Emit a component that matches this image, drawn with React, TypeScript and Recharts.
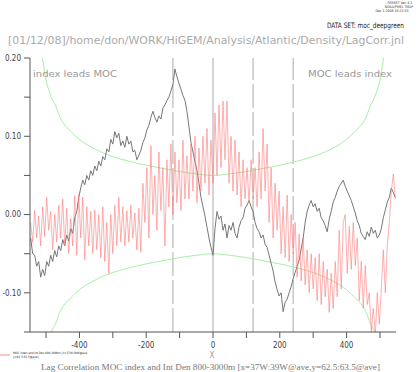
import React from "react";
import {
  LineChart,
  Line,
  XAxis,
  YAxis,
  ReferenceLine,
} from "recharts";

// lag correlation, gray = MOC index vs density (one value every 6 lags from -546)
const GRAY_CORR = [
  -0.03, -0.05, -0.052, -0.066, -0.06, -0.08, -0.07, -0.078, -0.06, -0.066,
  -0.052, -0.06, -0.046, -0.054, -0.04, -0.046, -0.032, -0.04, -0.026, -0.034,
  -0.018, -0.024, -0.004, 0.004, 0.022, 0.034, 0.044, 0.038, 0.05, 0.044,
  0.056, 0.05, 0.062, 0.056, 0.068, 0.062, 0.074, 0.07, 0.084, 0.08,
  0.096, 0.09, 0.106, 0.098, 0.104, 0.088, 0.094, 0.086, 0.1, 0.09,
  0.094, 0.08, 0.082, 0.07, 0.076, 0.082, 0.092, 0.098, 0.108, 0.114,
  0.124, 0.132, 0.124, 0.118, 0.126, 0.122, 0.136, 0.14, 0.146, 0.15,
  0.158, 0.166, 0.186, 0.176, 0.168, 0.16, 0.152, 0.146, 0.132, 0.112,
  0.092, 0.08, 0.068, 0.056, 0.04, 0.022, 0.01, -0.002, -0.016, -0.03,
  -0.042, -0.052, -0.018, 0.004, -0.006, -0.002, -0.02, -0.012, -0.03, -0.014,
  -0.02, -0.01, -0.024, -0.03, -0.016, -0.008, -0.004, 0.008, 0.012, 0.018,
  0.01, 0.004, -0.01, -0.018, -0.022, -0.03, -0.026, -0.038, -0.042, -0.052,
  -0.062, -0.072, -0.086, -0.096, -0.104, -0.1, -0.124, -0.112, -0.108, -0.1,
  -0.092, -0.082, -0.074, -0.066, -0.058, -0.044, -0.03, -0.01, 0.004, 0.012,
  0.018, 0.01, 0.014, 0.004, 0.008, -0.004, -0.008, -0.014, -0.022, -0.006,
  0.004, 0.016, 0.022, 0.03, 0.036, 0.04, 0.044, 0.036, 0.03, 0.024,
  0.018, 0.01, 0.002, -0.008, -0.014, -0.024, -0.028, -0.032, -0.022, -0.028,
  -0.016, -0.024, -0.02, -0.03, -0.026, -0.018, -0.004, 0.006, 0.016, 0.022,
  0.034, 0.028, 0.022,
];

// red = second lag correlation, same lag grid
const RED_CORR = [
  -0.01, -0.035, 0.005, -0.03, -0.002, -0.04, 0.01, -0.028, 0.022, -0.02,
  0.004, -0.045, 0.0, -0.035, 0.012, -0.03, 0.02, -0.04, 0.008, -0.05,
  -0.005, -0.04, 0.024, -0.052, 0.026, -0.03, 0.022, -0.058, 0.01, -0.04,
  0.004, -0.05, 0.006, -0.045, 0.0, -0.055, 0.01, -0.06, -0.01, -0.075,
  0.0, -0.05, 0.012, -0.04, 0.022, -0.035,
  0.01, -0.04, 0.005, -0.035, 0.012, -0.03, 0.002, -0.045, 0.008, -0.048,
  0.04, -0.01, 0.06, -0.03, 0.088, 0.0, 0.05, -0.02, 0.08, 0.005,
  0.06, -0.04, 0.07,
  0.01, 0.09, 0.0, 0.08, 0.015, 0.07, 0.005, 0.095, 0.02, 0.075,
  0.02, 0.09, 0.03, 0.1, 0.015, 0.085, 0.03, 0.1, 0.04, 0.11,
  0.025, 0.095, 0.04,
  0.13, 0.05, 0.14, 0.06, 0.145, 0.07, 0.145, 0.04,
  0.1, 0.03, 0.095, 0.025, 0.08, 0.01, 0.07, 0.02,
  0.06, 0.015, 0.07, 0.02, 0.06,
  0.01, 0.08, 0.02, 0.11, 0.03,
  0.09, -0.01, 0.06, -0.03, 0.04, -0.02, 0.03,
  -0.05, 0.01, -0.055, 0.025, -0.06, 0.0, -0.05,
  -0.01, -0.08, -0.025, -0.085, -0.03, -0.09,
  -0.045, -0.1, -0.05, -0.095, -0.055,
  -0.11, -0.05, -0.115, -0.06, -0.105,
  -0.07, -0.125, -0.075, -0.12, -0.06,
  -0.105, -0.02, -0.095, -0.01, 0.0,
  -0.075, -0.015, -0.07, -0.01, -0.065, -0.03,
  -0.11, -0.06, -0.12, -0.065, -0.115,
  -0.1, -0.15, -0.12, -0.155,
  -0.1, -0.14, -0.095,
  -0.045, -0.1, -0.04,
  -0.01, 0.03, 0.052, 0.02,
];

// green significance curves
const SIG_LAGS = [
  -516, -510, -500, -490, -480, -470, -460, -450, -425, -400, -350, -300,
  -250, -200, -150, -100, -50, 0, 50, 100, 150, 200, 250, 300, 350, 400, 425,
  450, 460, 470, 480, 490, 500, 510, 516,
];
const SIG_UPPER = [
  0.215, 0.198, 0.172, 0.157, 0.146, 0.138, 0.126, 0.118, 0.106, 0.096, 0.083,
  0.074, 0.068, 0.063, 0.059, 0.055, 0.052, 0.05, 0.052, 0.055, 0.059, 0.063,
  0.068, 0.074, 0.083, 0.096, 0.106, 0.118, 0.126, 0.138, 0.146, 0.157, 0.172,
  0.198, 0.215,
];
const SIG_LOWER = [
  -0.215, -0.198, -0.172, -0.157, -0.146, -0.138, -0.126, -0.118, -0.106,
  -0.096, -0.083, -0.074, -0.068, -0.063, -0.059, -0.055, -0.052, -0.05,
  -0.052, -0.055, -0.059, -0.063, -0.068, -0.074, -0.083, -0.096, -0.106,
  -0.118, -0.126, -0.138, -0.146, -0.157, -0.172, -0.198, -0.215,
];

const X_TICKS = [-500, -400, -300, -200, -100, 0, 100, 200, 300, 400, 500];
const Y_TICKS = [-0.15, -0.1, -0.05, 0, 0.05, 0.1, 0.15, 0.2];
const DASHED_LAGS = [-120, 120, 240];

const X_DOMAIN: [number, number] = [-548, 548];
const Y_DOMAIN: [number, number] = [-0.15, 0.2];

const TITLE =
  "[01/12/08]/home/don/WORK/HiGEM/Analysis/Atlantic/Density/LagCorr.jnl";
const FOOTER =
  "Lag Correlation MOC index and Int Den 800-3000m [x=37W:39W@ave,y=62.5:63.5@ave]";

const AXIS_COLOR = "#555";
const COND = "DejaVu Sans Condensed, DejaVu Sans";
const tickStyle = { fontSize: 8, fill: "#444", fontFamily: COND };

const fmtX = (v: number) => (v % 200 === 0 ? String(v) : "");
const fmtY = (v: number) => {
  const h = Math.round(v * 100);
  return h % 10 === 0 ? (h / 100).toFixed(2) : "";
};

export default function App() {
  const corrData = GRAY_CORR.map((g, i) => ({
    lag: -546 + 6 * i,
    gray: g,
    red: RED_CORR[i],
  }));
  const upperData = SIG_LAGS.map((lag, i) => ({ lag, sig: SIG_UPPER[i] }));
  const lowerData = SIG_LAGS.map((lag, i) => ({ lag, sig: SIG_LOWER[i] }));

  return (
    <div style={{ position: "absolute", left: 0, top: 0, width: 419, height: 372, background: "#fff" }}>
      <LineChart
        width={419}
        height={372}
        margin={{ top: 58, right: 23, bottom: 0, left: 0 }}
      >
        <XAxis
          xAxisId="bottom"
          type="number"
          dataKey="lag"
          domain={X_DOMAIN}
          allowDataOverflow
          ticks={X_TICKS}
          tickFormatter={fmtX}
          height={40}
          tickSize={6}
          tickMargin={4}
          stroke={AXIS_COLOR}
          tick={tickStyle}
          interval={0}
        />
        <XAxis
          xAxisId="top"
          orientation="top"
          type="number"
          dataKey="lag"
          domain={X_DOMAIN}
          allowDataOverflow
          ticks={X_TICKS}
          tick={false}
          height={0}
          tickSize={6}
          stroke={AXIS_COLOR}
          interval={0}
        />
        <YAxis
          yAxisId="left"
          type="number"
          domain={Y_DOMAIN}
          allowDataOverflow
          ticks={Y_TICKS}
          tickFormatter={fmtY}
          width={30}
          tickSize={6}
          tickMargin={3}
          stroke={AXIS_COLOR}
          tick={tickStyle}
          interval={0}
        />
        <YAxis
          yAxisId="right"
          orientation="right"
          type="number"
          domain={Y_DOMAIN}
          allowDataOverflow
          ticks={Y_TICKS}
          tick={false}
          width={0}
          tickSize={6}
          stroke={AXIS_COLOR}
          interval={0}
        />
        <ReferenceLine xAxisId="bottom" yAxisId="left" x={0} stroke="#aaa" strokeWidth={1} />
        {DASHED_LAGS.map((lag) => (
          <ReferenceLine
            key={lag}
            xAxisId="bottom"
            yAxisId="left"
            x={lag}
            stroke="#aaa"
            strokeWidth={1}
            strokeDasharray="24 4"
          />
        ))}
        <Line
          xAxisId="top"
          yAxisId="right"
          data={upperData}
          dataKey="sig"
          type="monotone"
          stroke="#a6f0a6"
          strokeWidth={1}
          dot={false}
          isAnimationActive={false}
        />
        <Line
          xAxisId="bottom"
          yAxisId="left"
          data={lowerData}
          dataKey="sig"
          type="monotone"
          stroke="#a6f0a6"
          strokeWidth={1}
          dot={false}
          isAnimationActive={false}
        />
        <Line
          xAxisId="bottom"
          yAxisId="left"
          data={corrData}
          dataKey="gray"
          stroke="#777"
          strokeWidth={1}
          dot={false}
          isAnimationActive={false}
        />
        <Line
          xAxisId="bottom"
          yAxisId="left"
          data={corrData}
          dataKey="red"
          stroke="#ff7a7a"
          strokeWidth={0.6}
          dot={false}
          isAnimationActive={false}
        />
      </LineChart>
      <svg
        width={419}
        height={372}
        style={{ position: "absolute", left: 0, top: 0, pointerEvents: "none" }}
        fontFamily={COND}
      >
        <text x={400} y={4} fontSize={3.5} textAnchor="middle" fill="#333">FERRET Ver. 6.1</text>
        <text x={399} y={8} fontSize={3.5} textAnchor="middle" fill="#333">NOAA/PMEL TMAP</text>
        <text x={392} y={12} fontSize={3.5} textAnchor="middle" fill="#333">Dec  1 2008 16:21:53</text>
        <text x={327} y={28} fontSize={7.5} fill="#222" textLength={77} lengthAdjust="spacingAndGlyphs">
          DATA SET: moc_deepgreen
        </text>
        <text x={8} y={44} fontSize={11} fill="#aaa" textLength={396} lengthAdjust="spacingAndGlyphs">
          {TITLE}
        </text>
        <text x={33} y={77} fontSize={9.5} fill="#999" textLength={84} lengthAdjust="spacingAndGlyphs">
          index leads MOC
        </text>
        <text x={308} y={77} fontSize={9.5} fill="#999" textLength={84} lengthAdjust="spacingAndGlyphs">
          MOC leads index
        </text>
        <text x={212} y={358} fontSize={8} fill="#999" textAnchor="middle">X</text>
        <line x1={0} y1={355} x2={10} y2={355} stroke="#ff8a8a" strokeWidth={1} />
        <text x={13} y={354} fontSize={3} fill="#222">MOC index and Int Den 800-3000m [x=37W:39W@ave,</text>
        <text x={13} y={358} fontSize={3} fill="#222">y=62.5:63.5@ave]</text>
        <text
          x={41}
          y={370}
          fontSize={8.5}
          fill="#777"
          fontFamily="Liberation Serif"
          textLength={339}
          lengthAdjust="spacingAndGlyphs"
        >
          {FOOTER}
        </text>
      </svg>
    </div>
  );
}
